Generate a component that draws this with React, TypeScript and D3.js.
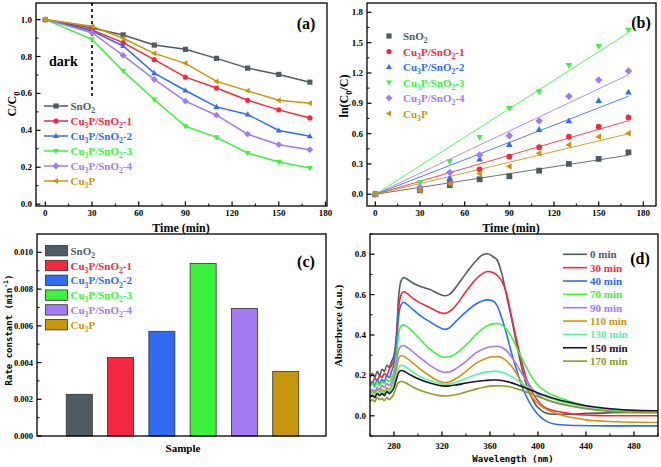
import React from 'react';
import * as d3 from 'd3';

// ---------------- data ----------------
const times = [0, 30, 50, 70, 90, 110, 130, 150, 170];
const sampleNames = ['SnO2', 'Cu3P/SnO2-1', 'Cu3P/SnO2-2', 'Cu3P/SnO2-3', 'Cu3P/SnO2-4', 'Cu3P'];
const sampleColors = ['#4f5b62', '#f5283f', '#2f6cf2', '#3cf23c', '#a47af2', '#c8960e'];
const markerTypes = ['square', 'circle', 'triUp', 'triDown', 'diamond', 'triLeft'];

// (a) C/C0
const ccSnO2 = [1.0, 0.955, 0.917, 0.862, 0.839, 0.79, 0.737, 0.703, 0.661];
const ccCu3PSnO2_1 = [1.0, 0.944, 0.875, 0.783, 0.688, 0.629, 0.563, 0.511, 0.467];
const ccCu3PSnO2_2 = [1.0, 0.938, 0.857, 0.71, 0.616, 0.527, 0.486, 0.399, 0.368];
const ccCu3PSnO2_3 = [1.0, 0.893, 0.721, 0.567, 0.422, 0.362, 0.277, 0.228, 0.196];
const ccCu3PSnO2_4 = [1.0, 0.929, 0.806, 0.676, 0.558, 0.482, 0.379, 0.322, 0.295];
const ccCu3P = [1.0, 0.964, 0.899, 0.817, 0.763, 0.665, 0.614, 0.563, 0.547];

// (b) ln(C0/C)
const lnSnO2 = [0, 0.04, 0.09, 0.148, 0.178, 0.234, 0.3, 0.35, 0.415];
const lnCu3PSnO2_1 = [0, 0.05, 0.13, 0.247, 0.372, 0.465, 0.57, 0.669, 0.76];
const lnCu3PSnO2_2 = [0, 0.07, 0.16, 0.346, 0.49, 0.64, 0.725, 0.925, 1.01];
const lnCu3PSnO2_3 = [0, 0.115, 0.325, 0.564, 0.85, 1.015, 1.275, 1.465, 1.625];
const lnCu3PSnO2_4 = [0, 0.07, 0.215, 0.389, 0.58, 0.725, 0.97, 1.13, 1.22];
const lnCu3P = [0, 0.036, 0.105, 0.204, 0.275, 0.405, 0.488, 0.57, 0.603];

// (c) rate constants (min^-1)
const rateConstants = [0.00227, 0.00428, 0.0057, 0.0094, 0.00695, 0.00352];

// (d) absorbance spectra [wavelength nm, absorbance]
const spectrumLabels = ['0 min', '30 min', '40 min', '70 min', '90 min', '110 min', '130 min', '150 min', '170 min'];
const spectrumColors = ['#4f5b62', '#f5283f', '#2f6cf2', '#3cf23c', '#a47af2', '#c8960e', '#50f5a5', '#2b0b2b', '#889c1e'];
const spec0: [number, number][] = [[260,0.19],[262,0.21],[264,0.19],[266,0.22],[268,0.2],[270,0.23],[272,0.22],[274,0.25],[276,0.24],[278,0.27],[280,0.3],[282,0.4],[284,0.6],[286,0.67],[288,0.685],[290,0.68],[295,0.66],[300,0.645],[310,0.625],[318,0.602],[322,0.594],[326,0.6],[332,0.64],[340,0.705],[348,0.765],[354,0.797],[358,0.802],[362,0.79],[366,0.77],[370,0.7],[374,0.59],[378,0.48],[382,0.36],[386,0.25],[390,0.16],[394,0.1],[398,0.055],[402,0.03],[406,0.015],[412,0.008],[425,0.008],[440,0.012],[460,0.015],[480,0.017],[500,0.018]];
const spec30: [number, number][] = [[260,0.17],[262,0.16],[264,0.19],[266,0.17],[268,0.2],[270,0.19],[272,0.21],[274,0.2],[276,0.23],[278,0.25],[280,0.28],[282,0.37],[284,0.54],[286,0.6],[288,0.615],[290,0.61],[295,0.585],[300,0.565],[310,0.535],[318,0.512],[322,0.507],[326,0.515],[332,0.55],[340,0.615],[348,0.675],[354,0.705],[358,0.714],[362,0.71],[366,0.695],[370,0.665],[374,0.6],[378,0.49],[382,0.38],[386,0.28],[390,0.19],[394,0.13],[398,0.09],[402,0.06],[406,0.04],[412,0.027],[420,0.018],[430,0.008],[445,0.002],[460,0.0],[500,0.0]];
const spec40: [number, number][] = [[260,0.15],[262,0.17],[264,0.15],[266,0.18],[268,0.16],[270,0.18],[272,0.17],[274,0.2],[276,0.19],[278,0.22],[280,0.26],[282,0.36],[284,0.5],[286,0.55],[288,0.562],[290,0.555],[295,0.53],[300,0.505],[310,0.465],[318,0.437],[322,0.428],[326,0.435],[332,0.47],[340,0.515],[348,0.552],[354,0.57],[358,0.574],[362,0.57],[366,0.545],[370,0.48],[374,0.4],[378,0.31],[382,0.23],[386,0.155],[390,0.1],[394,0.055],[398,0.02],[402,-0.005],[408,-0.03],[415,-0.042],[430,-0.048],[460,-0.05],[500,-0.05]];
const spec70: [number, number][] = [[260,0.14],[262,0.16],[264,0.14],[266,0.17],[268,0.15],[270,0.17],[272,0.16],[274,0.18],[276,0.17],[278,0.19],[280,0.22],[282,0.3],[284,0.41],[286,0.445],[288,0.45],[290,0.445],[295,0.42],[300,0.39],[310,0.33],[318,0.297],[322,0.29],[326,0.292],[332,0.31],[340,0.35],[348,0.4],[356,0.44],[362,0.455],[366,0.457],[370,0.45],[374,0.425],[378,0.39],[382,0.34],[386,0.29],[390,0.245],[394,0.2],[398,0.165],[402,0.14],[408,0.115],[415,0.095],[425,0.075],[440,0.05],[460,0.033],[480,0.027],[500,0.025]];
const spec90: [number, number][] = [[260,0.12],[262,0.13],[264,0.12],[266,0.14],[268,0.13],[270,0.15],[272,0.14],[274,0.16],[276,0.15],[278,0.17],[280,0.2],[282,0.26],[284,0.33],[286,0.345],[288,0.348],[290,0.342],[295,0.32],[300,0.295],[310,0.25],[318,0.222],[322,0.215],[326,0.217],[332,0.235],[340,0.27],[348,0.31],[356,0.335],[362,0.343],[366,0.344],[370,0.338],[374,0.32],[378,0.29],[382,0.255],[386,0.215],[390,0.177],[394,0.145],[398,0.115],[402,0.095],[408,0.077],[415,0.063],[425,0.05],[440,0.037],[460,0.028],[480,0.024],[500,0.022]];
const spec110: [number, number][] = [[260,0.11],[262,0.12],[264,0.11],[266,0.13],[268,0.12],[270,0.13],[272,0.12],[274,0.14],[276,0.13],[278,0.15],[280,0.18],[282,0.23],[284,0.285],[286,0.297],[288,0.295],[290,0.288],[295,0.265],[300,0.24],[310,0.197],[318,0.17],[322,0.165],[326,0.167],[332,0.185],[340,0.22],[348,0.258],[356,0.282],[362,0.292],[366,0.293],[370,0.287],[374,0.27],[378,0.245],[382,0.21],[386,0.17],[390,0.135],[394,0.1],[398,0.072],[402,0.05],[408,0.028],[415,0.012],[425,-0.005],[440,-0.02],[460,-0.028],[480,-0.032],[500,-0.033]];
const spec130: [number, number][] = [[260,0.1],[262,0.11],[264,0.1],[266,0.12],[268,0.11],[270,0.12],[272,0.11],[274,0.13],[276,0.12],[278,0.14],[280,0.16],[282,0.2],[284,0.24],[286,0.25],[288,0.248],[290,0.24],[295,0.22],[300,0.2],[310,0.173],[318,0.16],[322,0.157],[326,0.158],[332,0.167],[340,0.185],[348,0.203],[356,0.215],[362,0.22],[366,0.22],[370,0.216],[374,0.207],[378,0.193],[382,0.178],[386,0.163],[390,0.147],[394,0.132],[398,0.118],[402,0.107],[408,0.092],[415,0.078],[425,0.062],[440,0.045],[460,0.03],[480,0.022],[500,0.02]];
const spec150: [number, number][] = [[260,0.09],[262,0.1],[264,0.09],[266,0.11],[268,0.1],[270,0.11],[272,0.1],[274,0.12],[276,0.11],[278,0.12],[280,0.14],[282,0.18],[284,0.215],[286,0.224],[288,0.222],[290,0.215],[295,0.198],[300,0.183],[310,0.162],[318,0.15],[322,0.147],[326,0.148],[332,0.153],[340,0.162],[348,0.17],[356,0.175],[362,0.177],[366,0.177],[370,0.175],[374,0.17],[378,0.163],[382,0.155],[386,0.146],[390,0.137],[394,0.128],[398,0.118],[402,0.108],[408,0.096],[415,0.083],[425,0.068],[440,0.05],[460,0.035],[480,0.027],[500,0.025]];
const spec170: [number, number][] = [[260,0.07],[262,0.08],[264,0.07],[266,0.09],[268,0.08],[270,0.085],[272,0.075],[274,0.09],[276,0.08],[278,0.09],[280,0.11],[282,0.145],[284,0.165],[286,0.17],[288,0.168],[290,0.162],[295,0.145],[300,0.13],[310,0.11],[318,0.1],[322,0.098],[326,0.099],[332,0.105],[340,0.118],[348,0.132],[356,0.143],[362,0.148],[368,0.149],[374,0.146],[380,0.138],[386,0.127],[390,0.118],[394,0.11],[398,0.1],[402,0.09],[408,0.078],[415,0.066],[425,0.052],[440,0.035],[460,0.022],[480,0.017],[500,0.015]];

// tick labels
const aXTicks = [0, 30, 60, 90, 120, 150, 180];
const aYTicks = [0, 0.2, 0.4, 0.6, 0.8, 1.0];
const bXTicks = [0, 30, 60, 90, 120, 150, 180];
const bYTicks = [0, 0.3, 0.6, 0.9, 1.2, 1.5, 1.8];
const cYTicks = [0, 0.002, 0.004, 0.006, 0.008, 0.01];
const dXTicks = [280, 320, 360, 400, 440, 480];
const dYTicks = [0, 0.2, 0.4, 0.6, 0.8];

// ---------------- helpers ----------------
const SERIF = "'Liberation Serif', 'Times New Roman', serif";
const MONO = "'DejaVu Sans Mono', monospace";

function parts(text: string) {
  const out: { t: string; sub: boolean }[] = [];
  for (let i = 0; i < text.length; i++) {
    const c = text[i];
    const sub = /\d/.test(c) && i > 0 && /[A-Za-z]/.test(text[i - 1]);
    const last = out[out.length - 1];
    if (last && last.sub === sub) last.t += c;
    else out.push({ t: c, sub });
  }
  return out;
}

function Label(props: any) {
  const { x, y, text, size, fill = '#000', anchor = 'start', family = SERIF, transform } = props;
  const ps = parts(text);
  const shift = size * 0.3;
  let cur = 0;
  return (
    <text x={x} y={y} fontSize={size} fill={fill} textAnchor={anchor} fontWeight="bold" fontFamily={family} transform={transform}>
      {ps.map((p, i) => {
        const target = p.sub ? shift : 0;
        const dy = target - cur;
        cur = target;
        return (
          <tspan key={i} dy={dy} fontSize={p.sub ? size * 0.7 : size}>
            {p.t}
          </tspan>
        );
      })}
    </text>
  );
}

function markerPath(type: string, r: number) {
  switch (type) {
    case 'square':
      return `M${-r},${-r}h${2 * r}v${2 * r}h${-2 * r}Z`;
    case 'circle':
      return `M${r},0A${r},${r} 0 1 1 ${-r},0A${r},${r} 0 1 1 ${r},0Z`;
    case 'triUp':
      return `M0,${-r * 1.2}L${r * 1.15},${r * 0.8}L${-r * 1.15},${r * 0.8}Z`;
    case 'triDown':
      return `M0,${r * 1.2}L${r * 1.15},${-r * 0.8}L${-r * 1.15},${-r * 0.8}Z`;
    case 'diamond':
      return `M0,${-r * 1.3}L${r * 1.3},0L0,${r * 1.3}L${-r * 1.3},0Z`;
    case 'triLeft':
      return `M${-r * 1.2},0L${r * 0.8},${-r * 1.15}L${r * 0.8},${r * 1.15}Z`;
  }
  return '';
}

function Frame({ x0, x1, y0, y1 }: any) {
  return <rect x={x0} y={y0} width={x1 - x0} height={y1 - y0} fill="none" stroke="#000" strokeWidth={1.3} />;
}

function BottomTicks({ scale, ticks, minor, y, fmt, labelY, size = 9 }: any) {
  return (
    <g>
      {minor.map((v: number, i: number) => (
        <line key={'m' + i} x1={scale(v)} x2={scale(v)} y1={y} y2={y - 2.5} stroke="#000" strokeWidth={1} />
      ))}
      {ticks.map((v: number, i: number) => (
        <g key={i}>
          <line x1={scale(v)} x2={scale(v)} y1={y} y2={y - 4.5} stroke="#000" strokeWidth={1.2} />
          <text x={scale(v)} y={labelY} fontSize={size} fontWeight="bold" fontFamily={SERIF} textAnchor="middle">
            {fmt(v)}
          </text>
        </g>
      ))}
    </g>
  );
}

function LeftTicks({ scale, ticks, minor, x, fmt, size = 9 }: any) {
  return (
    <g>
      {minor.map((v: number, i: number) => (
        <line key={'m' + i} x1={x} x2={x + 2.5} y1={scale(v)} y2={scale(v)} stroke="#000" strokeWidth={1} />
      ))}
      {ticks.map((v: number, i: number) => (
        <g key={i}>
          <line x1={x} x2={x + 4.5} y1={scale(v)} y2={scale(v)} stroke="#000" strokeWidth={1.2} />
          <text x={x - 4} y={scale(v) + 3} fontSize={size} fontWeight="bold" fontFamily={SERIF} textAnchor="end">
            {fmt(v)}
          </text>
        </g>
      ))}
    </g>
  );
}

// ---------------- App ----------------
export default function App() {
  const ccSeries = [ccSnO2, ccCu3PSnO2_1, ccCu3PSnO2_2, ccCu3PSnO2_3, ccCu3PSnO2_4, ccCu3P];
  const lnSeries = [lnSnO2, lnCu3PSnO2_1, lnCu3PSnO2_2, lnCu3PSnO2_3, lnCu3PSnO2_4, lnCu3P];
  const spectra = [spec0, spec30, spec40, spec70, spec90, spec110, spec130, spec150, spec170];

  // panel (a)
  const A = { x0: 36, x1: 327, y0: 3, y1: 206 };
  const xA = d3.scaleLinear().domain([-6, 181]).range([A.x0, A.x1]);
  const yA = d3.scaleLinear().domain([-0.01, 1.09]).range([A.y1, A.y0]);
  const lineA = d3.line<number>().x((_, i) => xA(times[i])).y((d) => yA(d));

  // panel (b)
  const B = { x0: 367, x1: 656, y0: 3, y1: 206 };
  const xB = d3.scaleLinear().domain([-5.6, 188.5]).range([B.x0, B.x1]);
  const yB = d3.scaleLinear().domain([-0.116, 1.892]).range([B.y1, B.y0]);

  // panel (c)
  const C = { x0: 37, x1: 326, y0: 234, y1: 436 };
  const xC = d3.scaleLinear().domain([0, 7]).range([C.x0 + 1, C.x1 + 1]);
  const yC = d3.scaleLinear().domain([0, 0.011]).range([C.y1, C.y0]);
  const barW = (xC(1) - xC(0)) * 0.63;

  // panel (d)
  const D = { x0: 370, x1: 658, y0: 234, y1: 436 };
  const xD = d3.scaleLinear().domain([260, 500]).range([D.x0, D.x1]);
  const yD = d3.scaleLinear().domain([-0.1, 0.9]).range([D.y1, D.y0]);
  const lineD = d3
    .line<[number, number]>()
    .x((d) => xD(d[0]))
    .y((d) => yD(d[1]))
    .curve(d3.curveMonotoneX);

  const f1 = d3.format('.1f');
  const f3 = d3.format('.3f');

  return (
    <svg width={661} height={467} style={{ position: 'absolute', left: 0, top: 0, background: '#fff' }}>
      <rect x={0} y={0} width={661} height={467} fill="#fff" />
      <defs>
        <clipPath id="clipD">
          <rect x={D.x0} y={D.y0} width={D.x1 - D.x0} height={D.y1 - D.y0} />
        </clipPath>
      </defs>

      {/* ============ (a) ============ */}
      <g>
        <line x1={xA(30)} x2={xA(30)} y1={A.y0} y2={yA(0.57)} stroke="#000" strokeWidth={1.6} strokeDasharray="3,3" />
        {ccSeries.map((s, si) => (
          <g key={si}>
            <path d={lineA(s) || ''} fill="none" stroke={sampleColors[si]} strokeWidth={1.5} />
            {s.map((v, i) => (
              <path key={i} d={markerPath(markerTypes[si], 2.6)} transform={`translate(${xA(times[i])},${yA(v)})`} fill={sampleColors[si]} />
            ))}
          </g>
        ))}
        <Frame {...A} />
        <BottomTicks scale={xA} ticks={aXTicks} minor={d3.range(15, 180, 30)} y={A.y1} fmt={(v: number) => String(v)} labelY={216} />
        <LeftTicks scale={yA} ticks={aYTicks} minor={d3.range(0.1, 1.05, 0.2)} x={A.x0} fmt={f1} />
        <Label x={181} y={232} text="Time (min)" size={12} anchor="middle" />
        <Label x={0} y={0} text="C/C0" size={12} anchor="middle" transform={`translate(16,104) rotate(-90)`} />
        <text x={49} y={66} fontSize={14} fontWeight="bold" fontFamily={SERIF}>dark</text>
        <text x={306} y={29} fontSize={16} fontWeight="bold" fontFamily={SERIF} textAnchor="middle">(a)</text>
        {sampleNames.map((n, i) => {
          const ry = 106 + i * 15;
          return (
            <g key={i}>
              <line x1={44} x2={68} y1={ry} y2={ry} stroke={sampleColors[i]} strokeWidth={1.5} />
              <path d={markerPath(markerTypes[i], 2.6)} transform={`translate(56,${ry})`} fill={sampleColors[i]} />
              <Label x={70.5} y={ry + 4} text={n} size={11} fill={sampleColors[i]} />
            </g>
          );
        })}
      </g>

      {/* ============ (b) ============ */}
      <g>
        {rateConstants.map((k, si) => (
          <line key={si} x1={xB(0)} y1={yB(0)} x2={xB(170)} y2={yB(k * 170)} stroke={sampleColors[si]} strokeWidth={1} opacity={0.85} />
        ))}
        {lnSeries.map((s, si) => (
          <g key={si}>
            {s.map((v, i) => (
              <path key={i} d={markerPath(markerTypes[si], 2.9)} transform={`translate(${xB(times[i])},${yB(v)})`} fill={sampleColors[si]} />
            ))}
          </g>
        ))}
        <Frame {...B} />
        <BottomTicks scale={xB} ticks={bXTicks} minor={d3.range(15, 190, 30)} y={B.y1} fmt={(v: number) => String(v)} labelY={216} />
        <LeftTicks scale={yB} ticks={bYTicks} minor={d3.range(0.15, 1.9, 0.3)} x={B.x0} fmt={f1} />
        <Label x={511} y={232} text="Time (min)" size={12} anchor="middle" />
        <Label x={0} y={0} text="ln(C0/C)" size={12} anchor="middle" transform={`translate(348,96) rotate(-90)`} />
        <text x={641} y={28} fontSize={16} fontWeight="bold" fontFamily={SERIF} textAnchor="middle">(b)</text>
        {sampleNames.map((n, i) => {
          const ry = 36 + i * 15.5;
          return (
            <g key={i}>
              <path d={markerPath(markerTypes[i], 2.6)} transform={`translate(389,${ry})`} fill={sampleColors[i]} />
              <Label x={403} y={ry + 4} text={n} size={11} fill={sampleColors[i]} />
            </g>
          );
        })}
      </g>

      {/* ============ (c) ============ */}
      <g>
        {rateConstants.map((k, i) => (
          <rect key={i} x={xC(i + 1) - barW / 2} y={yC(k)} width={barW} height={yC(0) - yC(k)} fill={sampleColors[i]} stroke="#333" strokeWidth={0.8} />
        ))}
        <rect x={C.x0} y={C.y0} width={C.x1 - C.x0} height={C.y1 - C.y0} fill="none" stroke="#000" strokeWidth={1.3} />
        <LeftTicks scale={yC} ticks={cYTicks} minor={d3.range(0.001, 0.0105, 0.002)} x={C.x0} fmt={f3} size={8.5} />
        <text x={183} y={452} fontSize={11} fontWeight="bold" fontFamily={SERIF} textAnchor="middle">Sample</text>
        <text transform="translate(12,330) rotate(-90)" fontSize={9} fontWeight="bold" fontFamily={MONO} textAnchor="middle">
          Rate constant (min<tspan dy={-4} fontSize={6.5}>-1</tspan><tspan dy={4}>)</tspan>
        </text>
        <text x={306} y={267} fontSize={16} fontWeight="bold" fontFamily={SERIF} textAnchor="middle">(c)</text>
        {sampleNames.map((n, i) => {
          const ry = 250.7 + i * 14.8;
          return (
            <g key={i}>
              <rect x={45.5} y={ry - 5.2} width={22} height={10.4} fill={sampleColors[i]} stroke="#333" strokeWidth={0.8} />
              <Label x={70.5} y={ry + 4} text={n} size={11} fill={sampleColors[i]} />
            </g>
          );
        })}
      </g>

      {/* ============ (d) ============ */}
      <g>
        <g clipPath="url(#clipD)">
          {spectra.map((s, i) => (
            <path key={i} d={lineD(s) || ''} fill="none" stroke={spectrumColors[i]} strokeWidth={1.6} />
          ))}
        </g>
        <Frame {...D} />
        <BottomTicks scale={xD} ticks={dXTicks} minor={d3.range(260, 501, 20).filter((v) => (v - 280) % 40 !== 0)} y={D.y1} fmt={(v: number) => String(v)} labelY={449} />
        <LeftTicks scale={yD} ticks={dYTicks} minor={[-0.1, 0.1, 0.3, 0.5, 0.7, 0.9]} x={D.x0} fmt={f1} />
        <text x={513} y={462} fontSize={9} fontWeight="bold" fontFamily={MONO} textAnchor="middle">Wavelength (nm)</text>
        <text transform="translate(342,326) rotate(-90)" fontSize={11} fontWeight="bold" fontFamily={SERIF} textAnchor="middle">
          Absorbrace (a.u.)
        </text>
        <text x={640} y={264} fontSize={16} fontWeight="bold" fontFamily={SERIF} textAnchor="middle">(d)</text>
        {spectrumLabels.map((n, i) => {
          const ry = 254.3 + i * 13.35;
          return (
            <g key={i}>
              <line x1={563} x2={587} y1={ry} y2={ry} stroke={spectrumColors[i]} strokeWidth={1.6} />
              <text x={590} y={ry + 4} fontSize={11} fontWeight="bold" fontFamily={SERIF} fill={spectrumColors[i]}>
                {n}
              </text>
            </g>
          );
        })}
      </g>
    </svg>
  );
}
